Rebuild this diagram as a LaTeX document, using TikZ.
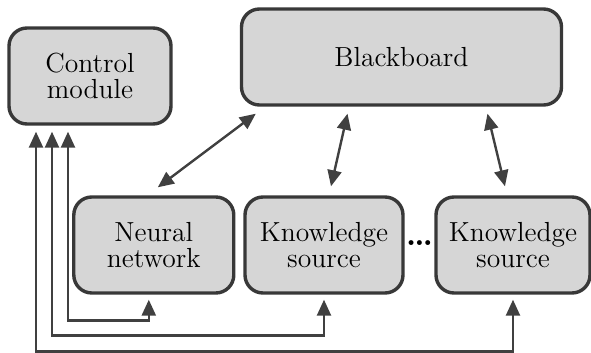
\documentclass[tikz,border=0pt]{standalone}
\usetikzlibrary{positioning, arrows.meta, calc}

\begin{document}
\begin{tikzpicture}[x=0.5pt, y=-0.5pt,
      unit/.style={draw=black!78, fill=black!16, line width=1.7pt, rounded corners=9pt,
                   minimum height=48pt, inner sep=0pt, align=center,
                   font=\fontsize{13.8}{13.2}\selectfont},
      arr/.style={{Triangle[length=8pt, width=7pt]}-{Triangle[length=8pt, width=7pt]},
                  line width=1.2pt, black!75}]
    \useasboundingbox (0,0) rectangle (591,353);
    \node[unit, minimum width=81pt]   (ctrl)   at (90,76)    {Control\\module};
    \node[unit, minimum width=160pt]  (board)  at (401.5,57) {Blackboard};
    \node[unit, minimum width=80pt]   (neural) at (153.8,245) {Neural\\network};
    \node[unit, minimum width=79pt]   (ksA)    at (324,245)  {Knowledge\\source};
    \node[unit, minimum width=77pt]   (ksB)    at (513,245)  {Knowledge\\source};
    \node[font=\fontsize{17}{17}\selectfont\bfseries, inner sep=0pt] (gap)
      at ($(ksA.east)!0.5!(ksB.west)+(0,-2)$) {\dots};
    % links to the blackboard
    \draw[arr] ($(neural.north)+(4,-8)$) -- ($(board.south west)+(16,7)$);
    \draw[arr] ($(ksA.north)+(7,-9)$) -- ($(board.south)+(-54,7)$);
    \draw[arr] ($(ksB.north)+(-8,-9)$) -- ($(board.south)+(86,7)$);
    % control lines
    \draw[arr] ($(neural.south)+(-5,5)$) -- ++(0,21) -| ($(ctrl.south)+(-22,6)$);
    \draw[arr] ($(ksA.south)+(0,5)$) -- ++(0,36) -| ($(ctrl.south)+(-38,6)$);
    \draw[arr] ($(ksB.south)+(0,5)$) -- ++(0,52) -| ($(ctrl.south)+(-54,6)$);
  \end{tikzpicture}
\end{document}
